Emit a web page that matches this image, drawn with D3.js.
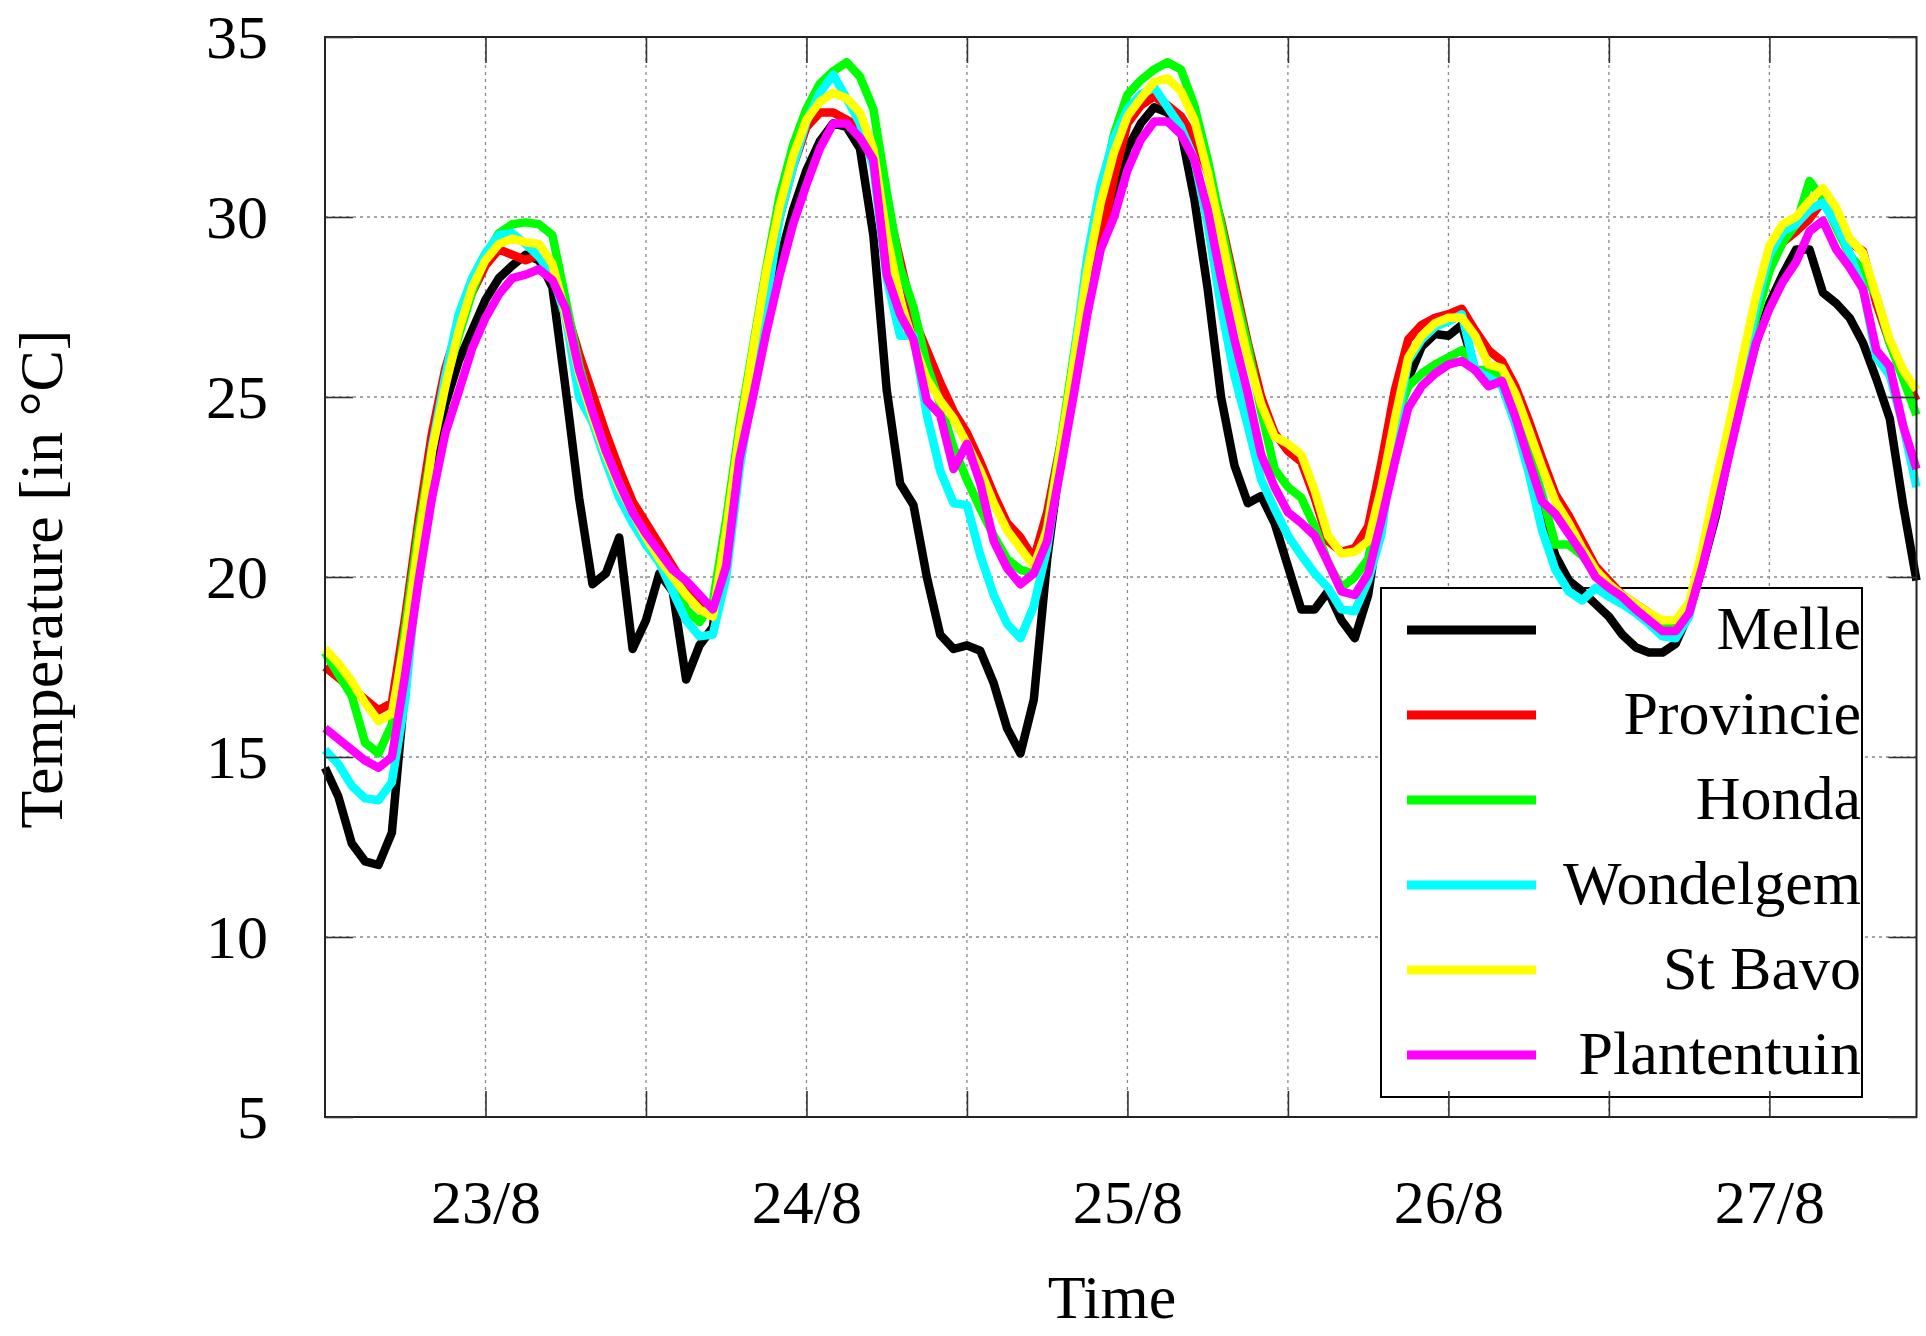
<!DOCTYPE html>
<html><head><meta charset="utf-8">
<script src="https://cdn.jsdelivr.net/npm/d3@7"></script>
<style>
body{margin:0;background:#fff}
svg text{font-family:"Liberation Serif","Times New Roman",serif;fill:#000}
</style>
</head><body>
<svg id="chart" width="1926" height="1336"></svg>
<script>
// hourly samples starting 22/8 12:00 (hour 0)
const hours = d3.range(0, 120);
const halfDayTicks = [12, 24, 36, 48, 60, 72, 84, 96, 108];
const dayTicks = [12, 36, 60, 84, 108];
const dayLabels = ["23/8", "24/8", "25/8", "26/8", "27/8"];
const yTicks = [5, 10, 15, 20, 25, 30, 35];
const xTitle = "Time";
const yTitle = "Temperature [in \u00B0C]";

const seriesNames = ["Melle", "Provincie", "Honda", "Wondelgem", "St Bavo", "Plantentuin"];
const seriesColors = ["#000000", "#ff0000", "#00ff00", "#00ffff", "#ffff00", "#ff00ff"];

const melle = [
 14.7,13.9,12.6,12.1,12.0,12.9,17.0,20.5,23.0,24.8,
 26.0,26.85,27.7,28.3,28.65,28.95,28.8,28.05,25.2,22.2,
 19.8,20.1,21.1,18.0,18.8,20.1,19.6,17.15,18.1,18.6,
 21.3,23.2,25.2,27.1,28.8,30.2,31.3,32.1,32.6,32.5,
 31.9,29.5,25.2,22.6,22.0,20.0,18.4,18.0,18.1,17.95,
 17.05,15.8,15.1,16.6,20.5,23.3,25.8,27.8,29.3,30.7,
 31.9,32.6,33.05,32.9,32.4,30.5,28.0,25.0,23.1,22.05,
 22.25,21.5,20.3,19.1,19.1,19.6,18.8,18.3,19.5,22.0,
 24.3,25.5,26.4,26.75,26.7,27.0,25.75,25.55,25.35,24.3,
 23.0,21.7,20.6,19.9,19.6,19.25,18.9,18.4,18.05,17.9,
 17.9,18.15,19.0,20.3,21.7,23.5,25.2,26.5,27.6,28.4,
 29.1,29.1,27.9,27.6,27.2,26.5,25.5,24.4,22.0,19.9];

const provincie = [
 17.5,17.2,16.9,16.6,16.3,16.5,18.9,21.6,24.0,25.8,
 27.0,27.9,28.65,29.1,28.95,28.8,28.95,28.4,27.45,26.2,
 25.1,24.0,23.0,22.1,21.5,20.9,20.3,19.7,19.35,19.1,
 21.5,24.0,26.1,28.2,30.0,31.4,32.5,32.9,32.9,32.7,
 32.5,31.6,30.4,28.8,27.2,26.3,25.4,24.6,24.0,23.2,
 22.3,21.5,21.1,20.5,21.8,23.7,25.6,27.6,29.3,31.1,
 32.6,33.1,33.35,33.1,32.8,32.2,31.25,29.9,28.2,26.5,
 25.0,24.0,23.5,23.2,22.2,21.0,20.7,20.8,21.4,23.2,
 25.2,26.6,27.0,27.2,27.3,27.45,26.85,26.3,26.0,25.3,
 24.35,23.3,22.3,21.7,21.0,20.3,19.9,19.5,19.25,19.0,
 18.7,18.6,19.2,20.6,22.2,23.9,25.6,27.35,28.6,29.3,
 29.6,29.95,30.45,29.9,29.3,29.05,27.6,26.5,25.6,24.9];

const honda = [
 17.9,17.3,16.7,15.4,15.1,15.9,18.6,21.3,23.6,25.4,
 26.7,27.9,28.9,29.55,29.8,29.85,29.8,29.5,27.7,25.9,
 24.55,23.5,22.6,21.8,20.9,20.5,19.9,19.1,18.75,19.3,
 21.6,24.2,26.4,28.6,30.6,32.0,33.0,33.7,34.05,34.3,
 33.9,33.0,30.7,28.6,27.5,25.9,24.8,23.6,22.7,21.9,
 21.15,20.5,20.2,20.1,21.4,23.7,26.2,28.6,30.6,32.3,
 33.4,33.8,34.1,34.3,34.1,33.1,31.6,29.8,28.0,26.4,
 24.6,23.0,22.5,22.2,21.4,20.4,19.7,20.0,20.5,22.3,
 24.3,25.3,25.65,25.9,26.1,26.3,25.75,25.75,25.55,24.5,
 23.5,22.3,20.9,20.9,20.6,20.1,19.8,19.45,19.2,18.9,
 18.7,18.5,19.1,20.5,22.1,23.8,25.5,27.2,28.5,29.3,
 29.8,31.0,30.5,29.7,28.95,28.5,27.8,26.5,25.5,24.5];

const wondelgem = [
 15.2,14.8,14.2,13.85,13.8,14.3,16.6,20.4,23.6,25.6,
 27.3,28.3,29.0,29.5,29.55,29.25,28.9,28.4,27.2,25.0,
 24.3,23.2,22.2,21.5,20.9,20.4,19.6,18.8,18.35,18.4,
 20.0,23.0,25.3,27.6,30.0,31.4,32.65,33.45,33.95,33.3,
 32.6,31.4,28.3,26.7,26.7,24.5,22.95,22.05,22.0,20.6,
 19.5,18.7,18.3,19.2,20.8,23.3,26.1,28.9,30.9,32.2,
 33.0,33.4,33.6,33.05,32.5,31.6,29.8,27.5,25.6,24.2,
 22.7,21.9,21.15,20.6,20.1,19.7,19.1,19.05,19.9,21.2,
 24.0,26.0,26.6,26.95,27.1,27.3,25.75,25.55,25.3,24.25,
 22.9,21.3,20.2,19.6,19.35,19.7,19.45,19.25,19.0,18.7,
 18.35,18.3,18.9,20.5,22.2,23.9,25.7,27.5,28.95,29.6,
 29.8,30.2,30.4,29.8,29.0,28.0,26.1,25.6,24.2,22.5];

const stBavo = [
 18.0,17.6,17.1,16.5,16.0,16.2,18.3,21.0,23.5,25.3,
 26.85,28.05,28.8,29.25,29.4,29.3,29.25,28.7,27.3,25.65,
 24.45,23.4,22.5,21.8,21.1,20.5,20.0,19.5,19.1,18.9,
 21.3,24.0,26.3,28.5,30.3,31.7,32.7,33.2,33.45,33.3,
 32.9,31.9,29.5,27.7,26.5,25.5,24.9,24.4,23.7,22.95,
 22.05,21.3,20.8,20.3,21.3,23.6,26.0,28.5,30.4,31.8,
 32.8,33.3,33.75,33.85,33.5,32.7,31.25,29.5,27.7,26.1,
 24.8,23.9,23.7,23.4,22.4,21.15,20.65,20.7,21.0,22.5,
 24.4,26.1,26.7,27.05,27.2,27.2,26.7,25.9,25.8,25.1,
 24.1,23.05,22.1,21.5,20.8,20.2,19.8,19.5,19.25,19.0,
 18.8,18.8,19.3,20.8,22.6,24.25,26.1,27.8,29.2,29.8,
 30.0,30.45,30.8,30.25,29.4,29.0,27.8,26.6,25.75,25.2];

const plantentuin = [
 15.8,15.5,15.2,14.9,14.7,15.0,17.3,19.9,22.2,24.0,
 25.15,26.35,27.2,27.85,28.3,28.4,28.55,28.25,27.45,25.75,
 24.6,23.5,22.6,21.8,21.2,20.7,20.2,19.9,19.5,19.1,
 20.3,23.3,25.0,26.8,28.4,29.8,30.9,31.9,32.6,32.6,
 32.2,31.6,28.4,27.3,26.6,24.9,24.5,23.0,23.7,22.6,
 21.0,20.25,19.8,20.1,21.0,23.0,25.1,27.3,29.1,30.0,
 31.3,32.15,32.65,32.65,32.3,31.6,30.2,28.3,26.6,25.1,
 23.4,22.5,21.8,21.5,21.15,20.4,19.6,19.5,20.1,21.6,
 23.2,24.7,25.3,25.65,25.9,26.0,25.75,25.3,25.45,24.45,
 23.25,22.1,21.75,21.2,20.65,20.0,19.7,19.45,19.1,18.8,
 18.5,18.5,19.0,20.3,21.8,23.4,25.0,26.5,27.45,28.2,
 28.75,29.6,29.9,29.1,28.6,28.0,26.3,25.85,24.2,23.0];

const seriesValues = [melle, provincie, honda, wondelgem, stBavo, plantentuin];

// ---------- layout ----------
const plot = {left: 325, right: 1916.5, top: 37, bottom: 1117};
const svg = d3.select("#chart");

const x = d3.scaleLinear().domain([hours[0], hours[hours.length - 1]]).range([plot.left, plot.right]);
const y = d3.scaleLinear().domain([yTicks[0], yTicks[yTicks.length - 1]]).range([plot.bottom, plot.top]);

// grid
const grid = svg.append("g").attr("stroke", "#8a8a8a").attr("stroke-width", 1.3).attr("stroke-dasharray", "3,4");
grid.selectAll("line.h").data(yTicks.slice(1, -1)).join("line")
  .attr("class", "h")
  .attr("x1", plot.left).attr("x2", plot.right).attr("y1", d => y(d)).attr("y2", d => y(d));
grid.selectAll("line.v").data(halfDayTicks).join("line")
  .attr("class", "v")
  .attr("y1", plot.top).attr("y2", plot.bottom).attr("x1", d => x(d)).attr("x2", d => x(d));

// legend box (white, covers grid)
const leg = {x0: 1381, x1: 1862, y0: 588, y1: 1097, row0: 630, rowStep: 85, sx0: 1407, sx1: 1536};
svg.append("rect").attr("x", leg.x0).attr("y", leg.y0).attr("width", leg.x1 - leg.x0).attr("height", leg.y1 - leg.y0)
  .attr("fill", "#fff").attr("stroke", "#000").attr("stroke-width", 2);

// series
const line = d3.line().x((d, i) => x(hours[i])).y(d => y(d));
const gLines = svg.append("g");
seriesValues.forEach((vals, k) => {
  gLines.append("path").datum(vals)
    .attr("d", line).attr("fill", "none")
    .attr("stroke", seriesColors[k]).attr("stroke-width", 8.5)
    .attr("stroke-linejoin", "round").attr("stroke-linecap", "butt");
});

// legend entries
const gLeg = svg.append("g");
seriesNames.forEach((name, k) => {
  const cy = leg.row0 + k * leg.rowStep;
  gLeg.append("line").attr("x1", leg.sx0).attr("x2", leg.sx1).attr("y1", cy).attr("y2", cy)
    .attr("stroke", seriesColors[k]).attr("stroke-width", 9);
  gLeg.append("text").attr("x", leg.x1 - 1).attr("y", cy + 19).attr("text-anchor", "end")
    .attr("font-size", 62).text(name);
});

// frame
svg.append("rect").attr("x", plot.left).attr("y", plot.top)
  .attr("width", plot.right - plot.left).attr("height", plot.bottom - plot.top)
  .attr("fill", "none").attr("stroke", "#222").attr("stroke-width", 2);

// axes (ticks inside, mirrored)
function styleAxis(g) {
  g.select(".domain").remove();
  g.selectAll(".tick line").attr("stroke", "#333").attr("stroke-width", 1.6);
  g.selectAll(".tick text").attr("font-size", 62).attr("font-family", '"Liberation Serif","Times New Roman",serif').attr("fill", "#000");
}
const fmtDay = d => { const i = dayTicks.indexOf(d); return i >= 0 ? dayLabels[i] : ""; };
const gxB = svg.append("g").attr("transform", `translate(0,${plot.bottom})`)
  .call(d3.axisBottom(x).tickValues(halfDayTicks).tickSize(-26).tickFormat(fmtDay));
styleAxis(gxB);
gxB.selectAll(".tick text").attr("y", 106).attr("dy", 0);
const gxT = svg.append("g").attr("transform", `translate(0,${plot.top})`)
  .call(d3.axisTop(x).tickValues(halfDayTicks).tickSize(-26).tickFormat(""));
styleAxis(gxT);
const gyL = svg.append("g").attr("transform", `translate(${plot.left},0)`)
  .call(d3.axisLeft(y).tickValues(yTicks).tickSize(-28).tickPadding(57).tickFormat(d3.format("d")));
styleAxis(gyL);
gyL.selectAll(".tick text").attr("dy", "0.33em");
const gyR = svg.append("g").attr("transform", `translate(${plot.right},0)`)
  .call(d3.axisRight(y).tickValues(yTicks).tickSize(-28).tickFormat(""));
styleAxis(gyR);

// titles
svg.append("text").attr("x", 1112).attr("y", 1318).attr("text-anchor", "middle").attr("font-size", 62).text(xTitle);
svg.append("text").attr("transform", `translate(62,${(plot.top + plot.bottom) / 2 + 2}) rotate(-90)`)
  .attr("text-anchor", "middle").attr("font-size", 62).text(yTitle);
</script>
</body></html>
